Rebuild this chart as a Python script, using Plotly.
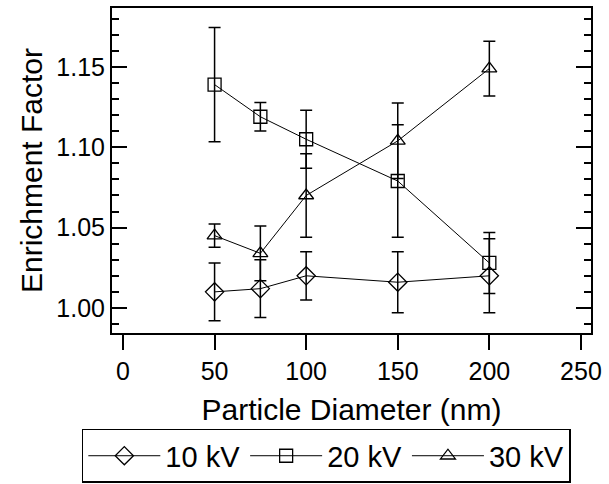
import plotly.graph_objects as go

diameters = [50, 75, 100, 150, 200]

ef_10kv = [1.010, 1.012, 1.020, 1.016, 1.020]
err_10kv = [0.018, 0.018, 0.015, 0.019, 0.023]

ef_20kv = [1.139, 1.119, 1.105, 1.079, 1.028]
err_20kv = [0.0355, 0.0088, 0.018, 0.035, 0.019]

ef_30kv = [1.045, 1.034, 1.070, 1.104, 1.149]
err_30kv = [0.0073, 0.017, 0.026, 0.0235, 0.017]

series = [
    ("10 kV", ef_10kv, err_10kv, "diamond-open", 14),
    ("20 kV", ef_20kv, err_20kv, "square-open", 13),
    ("30 kV", ef_30kv, err_30kv, "triangle-up-open", 13),
]

FONT = "Liberation Sans, Arial, sans-serif"

fig = go.Figure()
for name, ys, errs, sym, size in series:
    fig.add_trace(go.Scatter(
        x=diameters, y=ys, name=name, mode="lines+markers",
        line=dict(color="black", width=1),
        marker=dict(symbol=sym, size=size, color="black",
                    line=dict(color="black", width=1.3)),
        error_y=dict(type="data", array=errs, visible=True,
                     color="black", thickness=1.5, width=6),
    ))

fig.update_layout(
    width=609, height=484,
    margin=dict(l=112, r=18, t=8, b=151, autoexpand=False),
    paper_bgcolor="white", plot_bgcolor="white",
    font=dict(family=FONT, color="black", size=25),
    showlegend=True,
    legend=dict(
        orientation="h", x=-0.063, xanchor="left", y=-0.295, yanchor="top",
        bordercolor="black", borderwidth=1.5, font=dict(size=29),
        itemwidth=72, tracegroupgap=0,
    ),
    xaxis=dict(
        range=[-6, 255.5], tickvals=[0, 50, 100, 150, 200, 250],
        ticks="outside", ticklen=15, tickwidth=1.5, tickcolor="black",
        showline=True, linecolor="black", linewidth=2, mirror=True,
        showgrid=False, zeroline=False,
        tickfont=dict(size=25),
        title=dict(text="Particle Diameter (nm)", font=dict(size=30), standoff=15),
    ),
    yaxis=dict(
        range=[0.9844, 1.1867], tickvals=[1.00, 1.05, 1.10, 1.15],
        ticktext=["1.00", "1.05", "1.10", "1.15"],
        ticks="inside", ticklen=15, tickwidth=1.5, tickcolor="black",
        minor=dict(dtick=0.01, ticks="inside", ticklen=7, tickwidth=1.5,
                   tickcolor="black", showgrid=False),
        showline=True, linecolor="black", linewidth=2, mirror="ticks",
        showgrid=False, zeroline=False,
        tickfont=dict(size=25),
        title=dict(text="Enrichment Factor", font=dict(size=30), standoff=5),
    ),
)

fig.write_html("out.html", config={"displayModeBar": False},
               post_script="document.body.style.margin='0';")
